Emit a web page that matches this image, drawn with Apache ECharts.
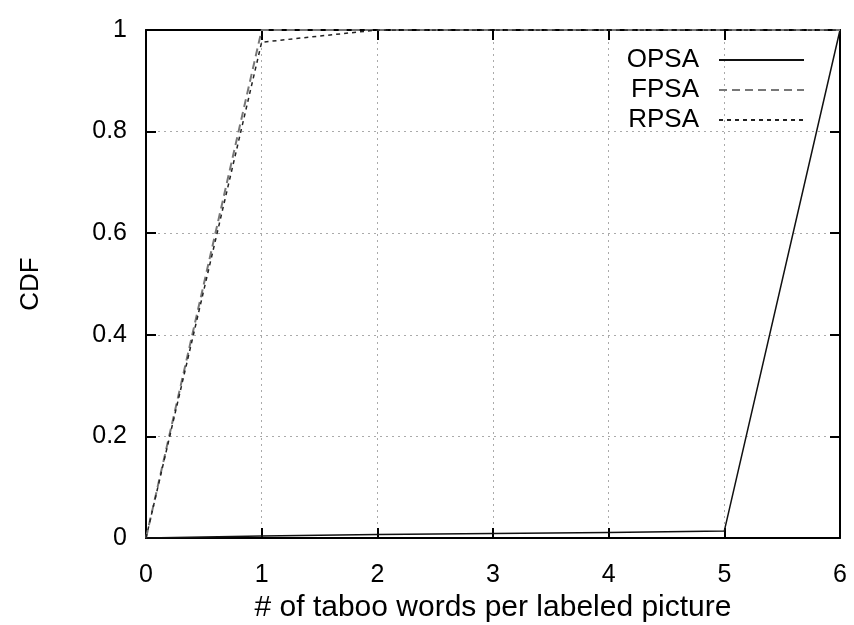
<!DOCTYPE html>
<html>
<head>
<meta charset="utf-8">
<script src="https://cdn.jsdelivr.net/npm/echarts@6/dist/echarts.min.js"></script>
<style>
  html, body { margin: 0; padding: 0; background: #fff; }
  #chart { width: 854px; height: 625px; }
</style>
</head>
<body>
<div id="chart"></div>
<script>
// Number of taboo words per labeled picture (x) and cumulative fraction (y)
const wordCounts = [0, 1, 2, 3, 4, 5, 6];
const opsa = [0, 0.004, 0.007, 0.009, 0.011, 0.014, 1];
const fpsa = [0, 1, 1, 1, 1, 1, 1];
const rpsa = [0, 0.976, 1, 1, 1, 1, 1];
const xTicks = [0, 1, 2, 3, 4, 5, 6];
const yTicks = [0, 0.2, 0.4, 0.6, 0.8, 1];
const seriesNames = ['OPSA', 'FPSA', 'RPSA'];

const FONT = 'Liberation Sans, Arial, sans-serif';
const pairs = ys => wordCounts.map((x, i) => [x, ys[i]]);

const gridLine = { show: true, lineStyle: { color: '#aaa', type: [2, 4], width: 1 } };
const axisLine = { show: true, onZero: false, lineStyle: { color: '#000', width: 2 } };
const innerTick = { show: true, inside: true, length: 10, lineStyle: { color: '#000', width: 2 } };

const chart = echarts.init(document.getElementById('chart'), null, { renderer: 'canvas' });
chart.setOption({
  animation: false,
  backgroundColor: '#fff',
  grid: { left: 146, right: 14, top: 30, bottom: 87, containLabel: false, outerBoundsMode: 'none' },
  xAxis: [
    {
      type: 'value', min: 0, max: 6, interval: 1,
      name: '# of taboo words per labeled picture',
      nameLocation: 'middle', nameGap: 55,
      nameTextStyle: { fontFamily: FONT, fontSize: 30, color: '#000' },
      axisLine, axisTick: innerTick, splitLine: gridLine,
      axisLabel: { fontFamily: FONT, fontSize: 25, color: '#000', margin: 25,
        formatter: v => xTicks.includes(v) ? String(v) : '' }
    },
    {
      type: 'value', min: 0, max: 6, interval: 1, position: 'top',
      axisLine, axisTick: innerTick, splitLine: { show: false }, axisLabel: { show: false }
    }
  ],
  yAxis: [
    {
      type: 'value', min: 0, max: 1, interval: 0.2,
      name: 'CDF', nameLocation: 'middle', nameGap: 102, nameRotate: 90,
      nameTextStyle: { fontFamily: FONT, fontSize: 26, color: '#000' },
      axisLine, axisTick: innerTick, splitLine: gridLine,
      axisLabel: { fontFamily: FONT, fontSize: 25, color: '#000', margin: 19,
        formatter: v => { const t = yTicks.find(k => Math.abs(k - v) < 1e-9); return t === undefined ? '' : String(t); } }
    },
    {
      type: 'value', min: 0, max: 1, interval: 0.2, position: 'right',
      axisLine, axisTick: innerTick, splitLine: { show: false }, axisLabel: { show: false }
    }
  ],
  legend: {
    orient: 'vertical', right: 44, top: 42, align: 'right',
    itemWidth: 85, itemHeight: 14, itemGap: 4,
    itemStyle: { opacity: 0 },
    textStyle: { fontFamily: FONT, fontSize: 26, color: '#000', padding: [0, 15, 0, 0] },
    data: seriesNames
  },
  series: [
    {
      name: seriesNames[0], type: 'line', data: pairs(opsa), showSymbol: false, symbol: 'none',
      lineStyle: { color: '#111', width: 1.5, type: 'solid' }, itemStyle: { color: '#111' }
    },
    {
      name: seriesNames[1], type: 'line', data: pairs(fpsa), showSymbol: false, symbol: 'none',
      lineStyle: { color: '#777', width: 2, type: [8, 5] }, itemStyle: { color: '#777' }
    },
    {
      name: seriesNames[2], type: 'line', data: pairs(rpsa), showSymbol: false, symbol: 'none',
      lineStyle: { color: '#222', width: 1.5, type: [4, 4] }, itemStyle: { color: '#222' }
    }
  ]
});
</script>
</body>
</html>
